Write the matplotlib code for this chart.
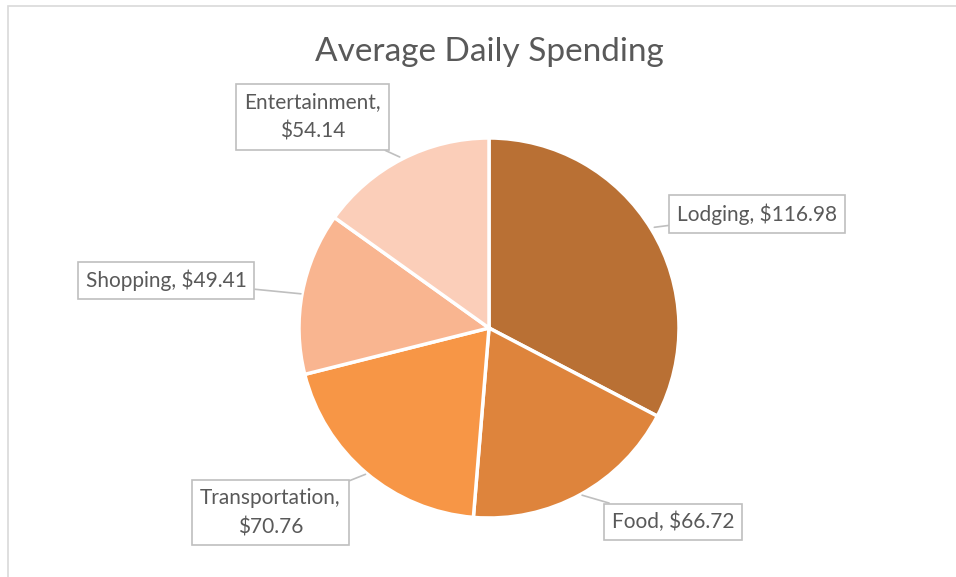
import matplotlib.pyplot as plt
from matplotlib.patches import Rectangle

# Spending data
categories = ['Lodging', 'Food', 'Transportation', 'Shopping', 'Entertainment']
values = [116.98, 66.72, 70.76, 49.41, 54.14]
colors = ['#B97034', '#DE843C', '#F79646', '#F9B590', '#FBCEB9']

# label box centers (data coords, pie radius = 1) and leader tips
label_pos = [(1.41, 0.60), (0.97, -1.02), (-1.15, -0.97), (-1.70, 0.25), (-0.93, 1.11)]
label_text = ['Lodging, ${:.2f}', 'Food, ${:.2f}', 'Transportation,\n${:.2f}',
              'Shopping, ${:.2f}', 'Entertainment,\n${:.2f}']
tip_pos = [(0.87, 0.53), (0.49, -0.88), (-0.65, -0.77), (-0.99, 0.18), (-0.47, 0.90)]

plt.rcParams['font.family'] = ['Lato', 'DejaVu Sans']

fig = plt.figure(figsize=(9.56, 5.77), dpi=100)

# light chart-area border (right/bottom edges fall outside the image)
fig.patches.append(Rectangle((8 / 956, -0.05), 1.1, 1 - 6 / 577 + 0.05,
                             transform=fig.transFigure, fill=False,
                             edgecolor='#D9D9D9', linewidth=1.2))

cx, cy, r = 489, 328, 190
ax = fig.add_axes([(cx - r) / 956, (577 - cy - r) / 577, 2 * r / 956, 2 * r / 577])

ax.pie(values, colors=colors, startangle=90, counterclock=False,
       wedgeprops=dict(edgecolor='white', linewidth=2.5))
ax.set_xlim(-1, 1)
ax.set_ylim(-1, 1)

for val, fmt, (lx, ly), (tx, ty) in zip(values, label_text, label_pos, tip_pos):
    ax.annotate(fmt.format(val), xy=(tx, ty), xytext=(lx, ly),
                ha='center', va='center', fontsize=15, color='#595959',
                linespacing=1.6, annotation_clip=False,
                bbox=dict(boxstyle='square,pad=0.38', fc='white', ec='#BFBFBF', lw=1.2),
                arrowprops=dict(arrowstyle='-', color='#BFBFBF', lw=1.2,
                                shrinkA=0, shrinkB=0))

fig.text(489 / 956, 1 - 52 / 577, 'Average Daily Spending', ha='center', va='center',
         fontsize=24, color='#595959')

fig.savefig('out.png', dpi=100)
